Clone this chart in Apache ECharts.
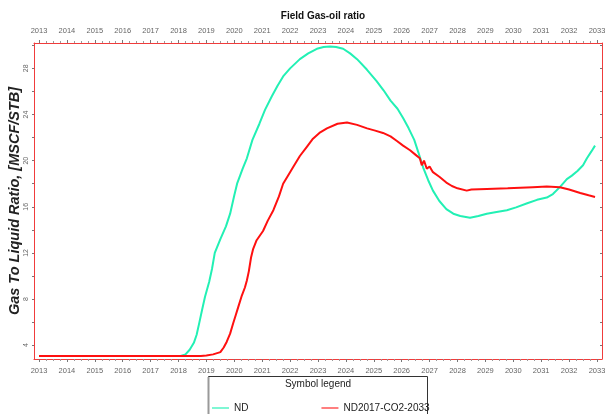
<!DOCTYPE html>
<html>
<head>
<meta charset="utf-8">
<script src="https://cdn.jsdelivr.net/npm/echarts@6.0.0/dist/echarts.min.js"></script>
<style>
  html, body { margin: 0; padding: 0; background: #fff; }
  #chart { width: 605px; height: 414px; }
</style>
</head>
<body>
<div id="chart"></div>
<script>
// data: [year, GLR]
const ndPoints = [
  [2013, 3.05], [2018.05, 3.05], [2018.25, 3.2], [2018.4, 3.6], [2018.55, 4.2], [2018.65, 4.9],
  [2018.75, 6.0], [2018.84, 7.0], [2018.95, 8.2], [2019.1, 9.5], [2019.2, 10.6], [2019.3, 12.0],
  [2019.5, 13.2], [2019.7, 14.3], [2019.85, 15.4], [2020.0, 17.0], [2020.1, 18.0], [2020.3, 19.3],
  [2020.45, 20.2], [2020.65, 21.8], [2020.9, 23.2], [2021.1, 24.4], [2021.35, 25.6], [2021.55, 26.5],
  [2021.75, 27.3], [2022.0, 28.0], [2022.35, 28.8], [2022.65, 29.3], [2022.96, 29.7], [2023.2, 29.85],
  [2023.43, 29.9], [2023.65, 29.85], [2023.9, 29.7], [2024.15, 29.3], [2024.4, 28.8], [2024.75, 27.9],
  [2025.1, 26.9], [2025.35, 26.1], [2025.6, 25.2], [2025.85, 24.5], [2026.05, 23.7], [2026.25, 22.8],
  [2026.45, 21.8], [2026.6, 20.7], [2026.77, 19.4], [2026.95, 18.3], [2027.12, 17.4], [2027.35, 16.5],
  [2027.6, 15.8], [2027.85, 15.4], [2028.1, 15.2], [2028.45, 15.05], [2028.75, 15.2], [2029.05, 15.4],
  [2029.4, 15.55], [2029.77, 15.7], [2030.1, 15.95], [2030.5, 16.3], [2030.85, 16.6], [2031.2, 16.8],
  [2031.42, 17.1], [2031.67, 17.7], [2031.92, 18.4], [2032.1, 18.7], [2032.3, 19.1], [2032.5, 19.6],
  [2032.64, 20.2], [2032.8, 20.8], [2032.93, 21.3]
];

const co2Points = [
  [2013, 3.05], [2018.8, 3.05], [2019.0, 3.1], [2019.24, 3.2], [2019.5, 3.4], [2019.62, 3.8],
  [2019.73, 4.3], [2019.85, 5.0], [2019.96, 5.9], [2020.05, 6.6], [2020.14, 7.3], [2020.27, 8.3],
  [2020.38, 9.0], [2020.45, 9.6], [2020.52, 10.4], [2020.6, 11.6], [2020.67, 12.3], [2020.8, 13.1],
  [2021.03, 13.9], [2021.2, 14.8], [2021.4, 15.7], [2021.6, 16.9], [2021.75, 18.0], [2021.95, 18.8],
  [2022.1, 19.4], [2022.35, 20.4], [2022.6, 21.2], [2022.82, 21.9], [2023.05, 22.4], [2023.32, 22.8],
  [2023.7, 23.2], [2024.04, 23.3], [2024.4, 23.1], [2024.76, 22.8], [2025.05, 22.6], [2025.33, 22.4],
  [2025.6, 22.1], [2025.83, 21.7], [2026.05, 21.3], [2026.3, 20.9], [2026.5, 20.5], [2026.65, 20.2],
  [2026.72, 19.6], [2026.8, 20.0], [2026.9, 19.3], [2027.0, 19.5], [2027.12, 19.0], [2027.35, 18.6],
  [2027.6, 18.1], [2027.8, 17.8], [2028.0, 17.6], [2028.33, 17.4], [2028.5, 17.5], [2029.05, 17.55],
  [2029.8, 17.6], [2030.7, 17.7], [2031.2, 17.75], [2031.67, 17.7], [2032.0, 17.5], [2032.4, 17.2],
  [2032.7, 17.0], [2032.93, 16.85]
];

const seriesNames = ['ND', 'ND2017-CO2-2033'];
const yearTicks = [2013, 2014, 2015, 2016, 2017, 2018, 2019, 2020, 2021, 2022, 2023,
                   2024, 2025, 2026, 2027, 2028, 2029, 2030, 2031, 2032, 2033];
const yLabelValues = [4, 8, 12, 16, 20, 24, 28];
const yTickValues = [4, 6, 8, 10, 12, 14, 16, 18, 20, 22, 24, 26, 28, 30];

// quarter ticks between the years
const quarterTicks = [];
yearTicks.slice(0, -1).forEach(y => {
    quarterTicks.push(y + 0.25, y + 0.5, y + 0.75);
});

const NARROW = '"Liberation Sans Narrow", "Arial Narrow", "Liberation Sans", sans-serif';
const AXIS_RED = '#f03c3c';
const X_MIN = 2012.82;
const X_MAX = 2033.18;

const yearAxis = (position) => ({
    type: 'value',
    position: position,
    min: X_MIN,
    max: X_MAX,
    axisLine: { show: true, lineStyle: { color: AXIS_RED, width: 1 } },
    axisTick: { show: true, length: 3, customValues: yearTicks, lineStyle: { color: '#777' } },
    axisLabel: { color: '#666', fontSize: 7.5, fontFamily: NARROW, margin: 8, customValues: yearTicks, formatter: v => String(v) },
    splitLine: { show: false }
});

const quarterAxis = (position) => ({
    type: 'value',
    position: position,
    min: X_MIN,
    max: X_MAX,
    axisLine: { show: false },
    axisTick: { show: true, length: 2, customValues: quarterTicks, lineStyle: { color: '#999' } },
    axisLabel: { show: false },
    splitLine: { show: false }
});

const chart = echarts.init(document.getElementById('chart'));
chart.setOption({
    animation: false,
    title: {
        text: 'Field Gas-oil ratio',
        left: 318,
        textAlign: 'center',
        top: 6,
        textStyle: { fontSize: 10, fontWeight: 'bold', color: '#111', fontFamily: NARROW }
    },
    grid: { left: 34, right: 3, top: 43, bottom: 55, containLabel: false, outerBoundsMode: 'none' },
    xAxis: [
        yearAxis('bottom'),
        yearAxis('top'),
        quarterAxis('bottom'),
        quarterAxis('top')
    ],
    yAxis: [
        {
            type: 'value',
            min: 2.8,
            max: 30.2,
            position: 'left',
            name: 'Gas To Liquid Ratio, [MSCF/STB]',
            nameLocation: 'middle',
            nameGap: 12,
            nameMoveOverlap: false,
            nameTextStyle: { fontSize: 14.5, fontStyle: 'italic', fontWeight: 'bold', color: '#222', fontFamily: '"Liberation Sans", Arial, sans-serif' },
            axisLine: { show: true, lineStyle: { color: AXIS_RED, width: 1 } },
            axisTick: { show: true, length: 2, customValues: yTickValues, lineStyle: { color: '#777' } },
            axisLabel: { rotate: 90, color: '#666', fontSize: 7, fontFamily: NARROW, margin: 4, customValues: yLabelValues },
            splitLine: { show: false }
        },
        {
            type: 'value',
            min: 2.8,
            max: 30.2,
            position: 'right',
            axisLine: { show: true, lineStyle: { color: AXIS_RED, width: 1 } },
            axisTick: { show: true, inside: true, length: 2, customValues: yTickValues, lineStyle: { color: '#777' } },
            axisLabel: { show: false },
            splitLine: { show: false }
        }
    ],
    legend: {
        left: 207,
        top: 398,
        icon: 'rect',
        itemWidth: 17,
        itemHeight: 2,
        itemGap: 73,
        textStyle: { fontSize: 10, color: '#222', fontFamily: NARROW },
        data: [
            { name: seriesNames[0], itemStyle: { color: '#7ff7d4' } },
            { name: seriesNames[1], itemStyle: { color: '#ff7f7f' } }
        ]
    },
    graphic: [
        {
            type: 'rect',
            shape: { x: 208.5, y: 376.5, width: 219, height: 60 },
            style: { fill: 'none', stroke: '#333', lineWidth: 1 }
        },
        {
            type: 'line',
            shape: { x1: 208.5, y1: 377, x2: 208.5, y2: 414 },
            style: { stroke: '#999', lineWidth: 2 }
        },
        {
            type: 'text',
            x: 318,
            y: 384,
            style: { text: 'Symbol legend', fontSize: 10, fill: '#222', fontFamily: NARROW, align: 'center', verticalAlign: 'middle' }
        }
    ],
    series: [
        {
            name: seriesNames[0],
            type: 'line',
            data: ndPoints,
            showSymbol: false,
            symbol: 'none',
            lineStyle: { color: '#22f0b4', width: 2 },
            itemStyle: { color: '#22f0b4' },
            z: 3
        },
        {
            name: seriesNames[1],
            type: 'line',
            data: co2Points,
            showSymbol: false,
            symbol: 'none',
            lineStyle: { color: '#ff1010', width: 2 },
            itemStyle: { color: '#ff1010' },
            z: 4
        }
    ]
});
</script>
</body>
</html>
